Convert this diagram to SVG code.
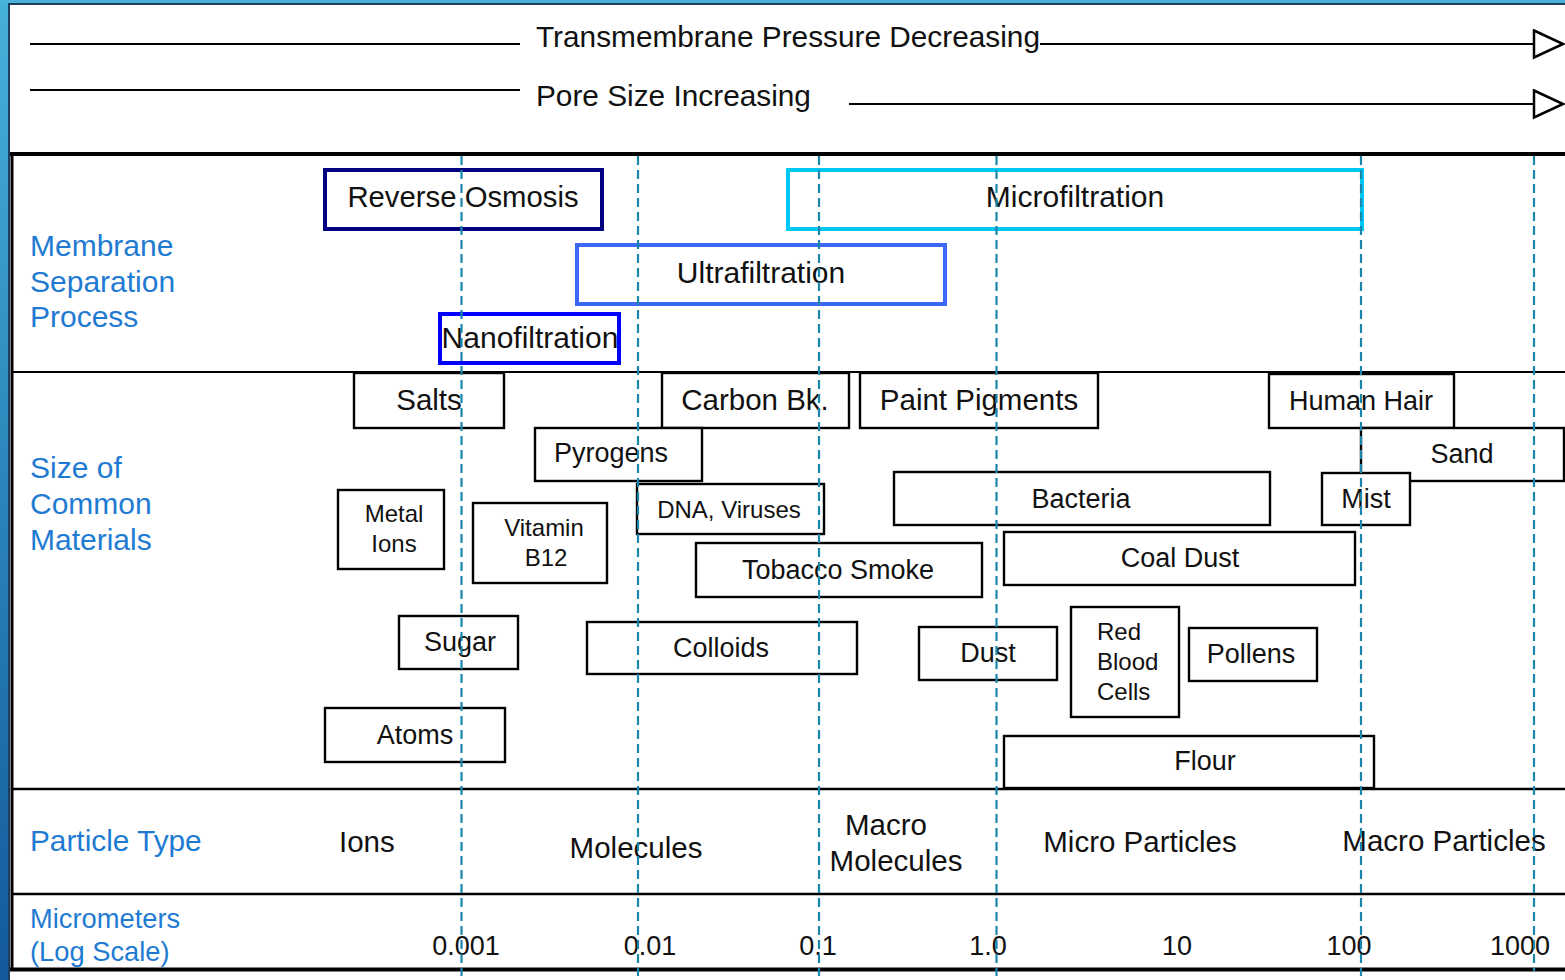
<svg xmlns="http://www.w3.org/2000/svg" width="1565" height="980" viewBox="0 0 1565 980">
<defs>
<linearGradient id="bgL" x1="0" y1="0" x2="0" y2="1">
<stop offset="0" stop-color="#45b0da"/>
<stop offset="1" stop-color="#12599a"/>
</linearGradient>
<marker id="tri" markerWidth="34" markerHeight="32" refX="31" refY="15" orient="auto" markerUnits="userSpaceOnUse">
<path d="M2,1.5 L31,15 L2,28.5 Z" fill="#fff" stroke="#000" stroke-width="2.5" stroke-linejoin="miter"/>
</marker>
</defs>
<style>
text{font-family:"Liberation Sans",Arial,sans-serif;fill:#111}
.lbl{fill:#1f7bd2;font-size:30px}
.sm{font-size:27.3px}
.c{text-anchor:middle}
.box rect{fill:#fff;stroke:#000;stroke-width:2.4}
.box text{font-size:27px}
.mem rect{fill:#fff;stroke-width:4}
.mem text{font-size:30px}
.dash{stroke:#1a86ab;stroke-width:2.2;stroke-dasharray:9 5;fill:none}
.rule{stroke:#000;fill:none}
.conn{stroke:#000;stroke-width:2;fill:none}
.pt{font-size:29.5px}
.num{font-size:27px}
</style>

<!-- background / frame -->
<rect x="0" y="0" width="1565" height="980" fill="#fff"/>
<rect x="0" y="0" width="9" height="980" fill="url(#bgL)"/>
<rect x="0" y="0" width="1565" height="4" fill="#48b2dc"/>
<rect x="8" y="3" width="1557" height="2" fill="#1b3f5e"/>
<rect x="8" y="3" width="2" height="977" fill="#1b3f5e"/>

<!-- table rules -->
<g id="table">
<line class="rule" x1="10" y1="154" x2="1565" y2="154" stroke-width="4"/>
<line class="rule" x1="12" y1="152" x2="12" y2="971" stroke-width="3"/>
<line class="rule" x1="12" y1="372" x2="1565" y2="372" stroke-width="2"/>
<line class="rule" x1="12" y1="789" x2="1565" y2="789" stroke-width="2.5"/>
<line class="rule" x1="12" y1="894" x2="1565" y2="894" stroke-width="2.5"/>
<line class="rule" x1="10" y1="969.5" x2="1565" y2="969.5" stroke-width="4"/>
</g>

<!-- header arrows -->
<g id="connectors">
<line class="conn" x1="30" y1="44" x2="520" y2="44"/>
<path class="conn" d="M1040,44 H1563" marker-end="url(#tri)"/>
<line class="conn" x1="30" y1="90" x2="520" y2="90"/>
<path class="conn" d="M849,104 H1563" marker-end="url(#tri)"/>
</g>
<g id="header-text">
<text x="536" y="47" font-size="29.8">Transmembrane Pressure Decreasing</text>
<text x="536" y="106" font-size="29.8">Pore Size Increasing</text>
</g>

<!-- row labels -->
<g id="row-labels">
<text class="lbl" x="30" y="256">Membrane</text>
<text class="lbl" x="30" y="292">Separation</text>
<text class="lbl" x="30" y="327">Process</text>
<text class="lbl" x="30" y="478">Size of</text>
<text class="lbl" x="30" y="514">Common</text>
<text class="lbl" x="30" y="550">Materials</text>
<text class="lbl" x="30" y="851" style="font-size:29.8px">Particle Type</text>
<text class="lbl sm" x="30" y="928">Micrometers</text>
<text class="lbl sm" x="30" y="961">(Log Scale)</text>
</g>

<!-- membrane processes -->
<g id="reverse-osmosis" class="mem"><rect x="325" y="170" width="277" height="59" stroke="#000080"/><text class="c" x="463" y="207" style="font-size:29.3px">Reverse Osmosis</text></g>
<g id="microfiltration" class="mem"><rect x="788" y="170" width="574" height="59" stroke="#00c8f5"/><text class="c" x="1075" y="207">Microfiltration</text></g>
<g id="ultrafiltration" class="mem"><rect x="577" y="245" width="368" height="59" stroke="#3d68f5"/><text class="c" x="761" y="283">Ultrafiltration</text></g>
<g id="nanofiltration" class="mem"><rect x="440" y="314" width="179" height="49" stroke="#0000ff"/><text class="c" x="530" y="348">Nanofiltration</text></g>

<!-- materials -->
<g id="salts" class="box"><rect x="354" y="373" width="150" height="55"/><text class="c" x="429" y="410" style="font-size:29.5px">Salts</text></g>
<g id="carbon-bk" class="box"><rect x="662" y="373" width="187" height="55"/><text class="c" x="755" y="410" style="font-size:29.5px">Carbon Bk.</text></g>
<g id="paint-pigments" class="box"><rect x="860" y="373" width="238" height="55"/><text class="c" x="979" y="410" style="font-size:29.5px">Paint Pigments</text></g>
<g id="human-hair" class="box"><rect x="1269" y="374" width="185" height="54"/><text class="c" x="1361" y="410">Human Hair</text></g>
<g id="pyrogens" class="box"><rect x="535" y="428" width="167" height="53"/><text class="c" x="611" y="462">Pyrogens</text></g>
<g id="sand" class="box"><rect x="1361" y="428" width="203" height="53"/><text class="c" x="1462" y="463">Sand</text></g>
<g id="metal-ions" class="box"><rect x="338" y="490" width="106" height="79"/><text class="c" x="394" y="522" style="font-size:24px">Metal</text><text class="c" x="394" y="552" style="font-size:24px">Ions</text></g>
<g id="vitamin-b12" class="box"><rect x="473" y="503" width="134" height="80"/><text class="c" x="544" y="536" style="font-size:24px">Vitamin</text><text class="c" x="546" y="566" style="font-size:24px">B12</text></g>
<g id="dna-viruses" class="box"><rect x="637" y="484" width="187" height="50"/><text class="c" x="729" y="518" style="font-size:24px">DNA,  Viruses</text></g>
<g id="bacteria" class="box"><rect x="894" y="472" width="376" height="53"/><text class="c" x="1081" y="508">Bacteria</text></g>
<g id="mist" class="box"><rect x="1322" y="473" width="88" height="52"/><text class="c" x="1366" y="508">Mist</text></g>
<g id="coal-dust" class="box"><rect x="1004" y="532" width="351" height="53"/><text class="c" x="1180" y="567">Coal Dust</text></g>
<g id="tobacco-smoke" class="box"><rect x="696" y="543" width="286" height="54"/><text class="c" x="838" y="579">Tobacco Smoke</text></g>
<g id="sugar" class="box"><rect x="399" y="616" width="119" height="53"/><text class="c" x="460" y="651">Sugar</text></g>
<g id="colloids" class="box"><rect x="587" y="622" width="270" height="52"/><text class="c" x="721" y="657">Colloids</text></g>
<g id="dust" class="box"><rect x="919" y="627" width="138" height="53"/><text class="c" x="988" y="662">Dust</text></g>
<g id="red-blood-cells" class="box"><rect x="1071" y="607" width="108" height="110"/><text x="1097" y="640" style="font-size:24px">Red</text><text x="1097" y="670" style="font-size:24px">Blood</text><text x="1097" y="700" style="font-size:24px">Cells</text></g>
<g id="pollens" class="box"><rect x="1189" y="628" width="128" height="53"/><text class="c" x="1251" y="663">Pollens</text></g>
<g id="atoms" class="box"><rect x="325" y="708" width="180" height="54"/><text class="c" x="415" y="744">Atoms</text></g>
<g id="flour" class="box"><rect x="1004" y="736" width="370" height="52"/><text class="c" x="1205" y="770">Flour</text></g>

<!-- particle types -->
<g id="particle-types">
<text class="pt" x="339" y="852">Ions</text>
<text class="pt c" x="636" y="858">Molecules</text>
<text class="pt c" x="886" y="835">Macro</text>
<text class="pt c" x="896" y="871">Molecules</text>
<text class="pt c" x="1140" y="852">Micro Particles</text>
<text class="pt c" x="1444" y="851">Macro Particles</text>
</g>

<!-- scale -->
<g id="scale">
<text class="num c" x="466" y="955">0.001</text>
<text class="num c" x="650" y="955">0.01</text>
<text class="num c" x="818" y="955">0.1</text>
<text class="num c" x="988" y="955">1.0</text>
<text class="num c" x="1177" y="955">10</text>
<text class="num c" x="1349" y="955">100</text>
<text class="num c" x="1520" y="955">1000</text>
</g>

<!-- dashed gridlines -->
<g id="gridlines">
<line class="dash" x1="461.5" y1="156" x2="461.5" y2="976"/>
<line class="dash" x1="638" y1="156" x2="638" y2="976"/>
<line class="dash" x1="819" y1="156" x2="819" y2="976"/>
<line class="dash" x1="996.5" y1="156" x2="996.5" y2="976"/>
<line class="dash" x1="1361" y1="156" x2="1361" y2="976"/>
<line class="dash" x1="1534" y1="156" x2="1534" y2="971"/>
</g>
</svg>
